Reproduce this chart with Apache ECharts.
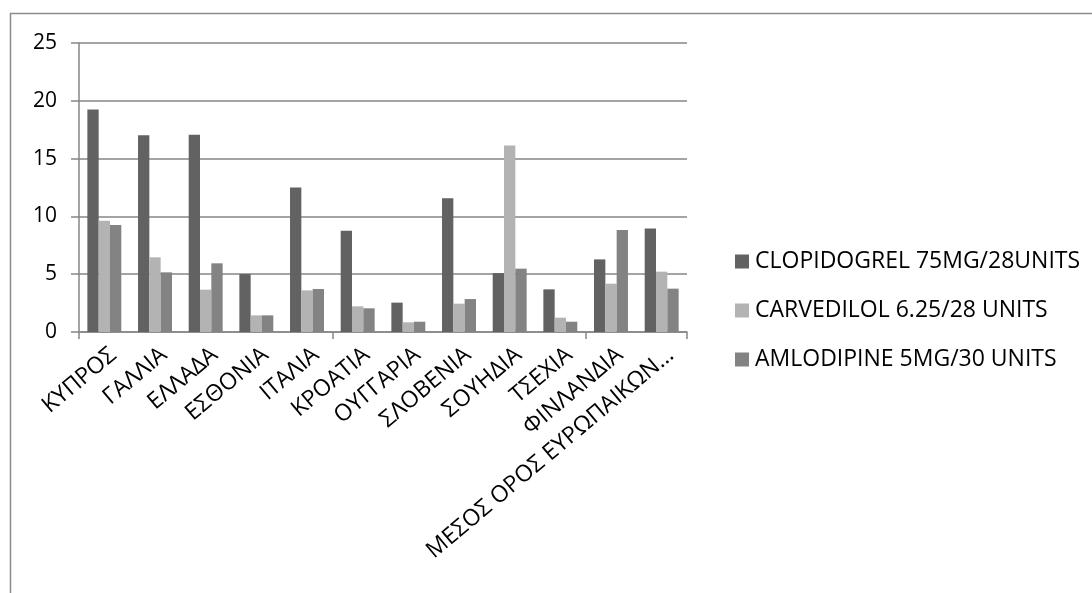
<!DOCTYPE html>
<html>
<head>
<meta charset="utf-8">
<script src="https://cdn.jsdelivr.net/npm/echarts@6/dist/echarts.min.js"></script>
<style>
  html, body { margin: 0; padding: 0; background: #ffffff; }
  #chart { width: 1092px; height: 593px; }
</style>
</head>
<body>
<div id="chart"></div>
<script>
// Countries (Greek labels) and prices per pack for three generic drugs
const categories = [
  'ΚΥΠΡΟΣ', 'ΓΑΛΛΙΑ', 'ΕΛΛΑΔΑ', 'ΕΣΘΟΝΙΑ', 'ΙΤΑΛΙΑ', 'ΚΡΟΑΤΙΑ',
  'ΟΥΓΓΑΡΙΑ', 'ΣΛΟΒΕΝΙΑ', 'ΣΟΥΗΔΙΑ', 'ΤΣΕΧΙΑ', 'ΦΙΝΛΑΝΔΙΑ',
  'ΜΕΣΟΣ ΟΡΟΣ ΕΥΡΩΠΑΙΚΩΝ…'
];
const seriesNames = [
  'CLOPIDOGREL 75MG/28UNITS',
  'CARVEDILOL 6.25/28 UNITS',
  'AMLODIPINE 5MG/30 UNITS'
];
const clopidogrel = [19.25, 17.03, 17.06, 5.01, 12.5, 8.76, 2.54, 11.56, 5.1, 3.69, 6.28, 8.96];
const carvedilol  = [9.63, 6.46, 3.66, 1.44, 3.6, 2.22, 0.84, 2.45, 16.14, 1.24, 4.18, 5.22];
const amlodipine  = [9.25, 5.16, 5.94, 1.44, 3.72, 2.05, 0.89, 2.85, 5.48, 0.89, 8.82, 3.75];
const yTicks = [0, 5, 10, 15, 20, 25];

const colors = ['#626262', '#b3b3b3', '#838383'];
const FONT = '"Open Sans", "Liberation Sans", sans-serif';
const lineColor = '#868686';

const chart = echarts.init(document.getElementById('chart'), null, { renderer: 'canvas' });

const values = [clopidogrel, carvedilol, amlodipine];

chart.setOption({
  animation: false,
  color: colors,
  graphic: [{
    // outer chart frame
    type: 'rect',
    shape: { x: 10.5, y: 13.5, width: 1200, height: 700 },
    style: { fill: 'none', stroke: '#8c8c8c', lineWidth: 1.5 },
    silent: true
  }],
  grid: [
    { left: 79, right: 405, top: 43, bottom: 261, containLabel: false },
    // label grid, shifted so rotated category names end right of each group centre
    { left: 88, right: 396, top: 43, bottom: 261, containLabel: false }
  ],
  legend: {
    orient: 'vertical',
    left: 730,
    top: 244,
    itemWidth: 14,
    itemHeight: 14,
    itemGap: 24,
    icon: 'rect',
    textStyle: { fontFamily: FONT, fontSize: 23, lineHeight: 25, color: '#000', padding: [0, 0, 0, 1] },
    data: seriesNames
  },
  xAxis: [{
    type: 'category',
    gridIndex: 0,
    data: categories,
    axisLine: { lineStyle: { color: lineColor, width: 1.5 } },
    axisTick: { show: true, alignWithLabel: false, length: 7, lineStyle: { color: lineColor, width: 1.5 } },
    axisLabel: { show: false }
  }, {
    type: 'category',
    gridIndex: 1,
    data: categories,
    axisLine: { show: false },
    axisTick: { show: false },
    axisLabel: {
      interval: 0,
      rotate: 40,
      margin: 20,
      fontFamily: FONT,
      fontSize: 23,
      color: '#000'
    }
  }],
  yAxis: [{
    type: 'value',
    gridIndex: 0,
    min: yTicks[0],
    max: yTicks[yTicks.length - 1],
    interval: 5,
    axisLine: { show: true, lineStyle: { color: lineColor, width: 1.5 } },
    axisTick: { show: true, length: 8, lineStyle: { color: lineColor, width: 1.5 } },
    splitLine: { show: true, lineStyle: { color: lineColor, width: 1.5 } },
    axisLabel: { margin: 22, fontFamily: FONT, fontSize: 21, color: '#000' }
  }, {
    type: 'value',
    gridIndex: 1,
    show: false,
    min: yTicks[0],
    max: yTicks[yTicks.length - 1]
  }],
  series: seriesNames.map((name, i) => ({
    name: name,
    type: 'bar',
    xAxisIndex: 0,
    yAxisIndex: 0,
    data: values[i],
    barGap: '0%',
    barCategoryGap: '33%',
    itemStyle: { color: colors[i] }
  }))
});
</script>
</body>
</html>
